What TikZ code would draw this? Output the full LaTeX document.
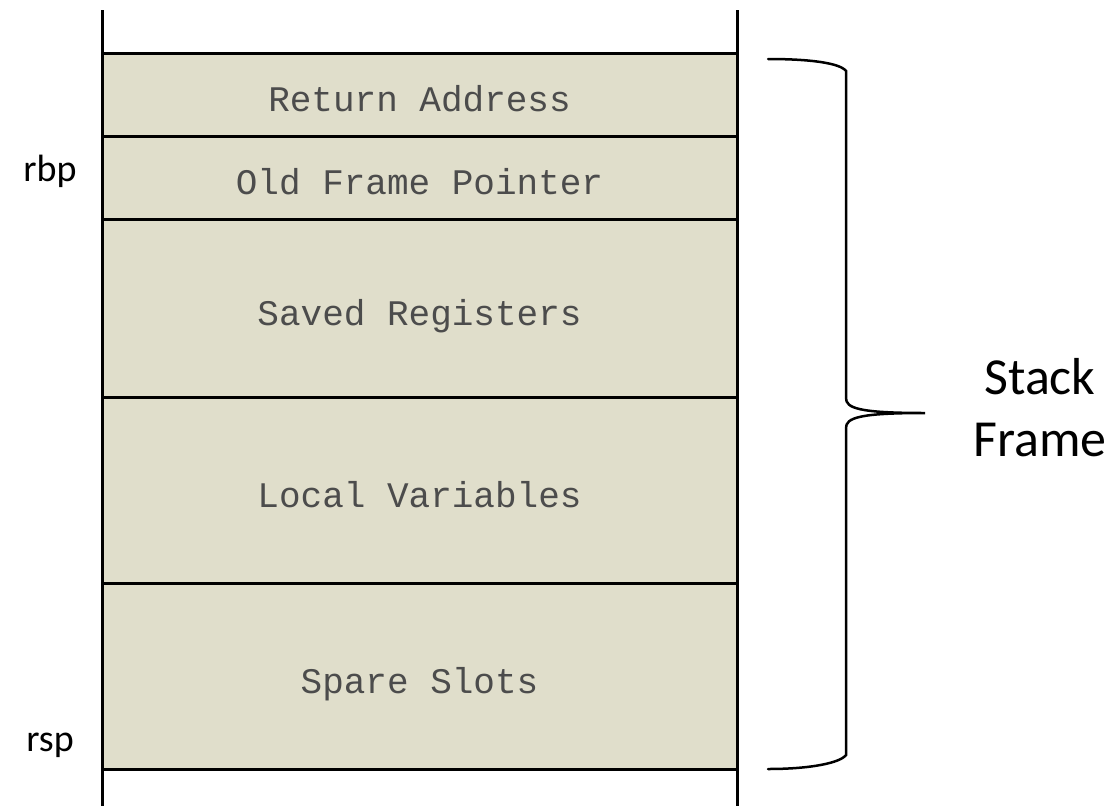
\documentclass[tikz,border=0pt]{standalone}
\usepackage{fontspec}
\setmonofont{Liberation Mono}
\newfontfamily\labelfont{Carlito}
\usetikzlibrary{positioning}
\definecolor{slotfill}{HTML}{E0DECB}

\begin{document}
\begin{tikzpicture}[
    x=1pt,
    y=-1pt,
    slot/.style={draw, line width=3pt, fill=slotfill, minimum width=635pt,
        outer sep=0pt, inner sep=0pt, text=black!70,
        text height=34pt, text depth=0pt,
        font=\ttfamily\fontsize{36}{42}\selectfont},
    reg/.style={font=\labelfont\fontsize{38}{44}\selectfont},
    brace/.style={line width=2.5pt, line cap=round}
]
    \useasboundingbox (0,0) rectangle (1119,806);

    % Stack slots
    \node[slot, minimum height=83pt, anchor=north] (ret) at (419.5,53) {Return Address};
    \node[slot, minimum height=83pt, below=0pt of ret] (ofp) {Old Frame Pointer};
    \node[slot, minimum height=178pt, below=0pt of ofp] (saved) {Saved Registers};
    \node[slot, minimum height=186pt, below=0pt of saved] (locals) {Local Variables};
    \node[slot, minimum height=186pt, below=0pt of locals] (spare) {Spare Slots};

    % Stack walls
    \coordinate (top) at (0,10);
    \coordinate (bot) at (0,806);
    \draw[line width=3pt] (ret.north west |- top) -- (spare.south west |- bot);
    \draw[line width=3pt] (ret.north east |- top) -- (spare.south east |- bot);

    % Registers
    \node[reg] (rbp) at (50,171) {rbp};
    \node[reg] (rsp) at (50,745) {rsp};

    % Brace
    \coordinate (btop) at (768,59);
    \coordinate (btip) at (925,413);
    \coordinate (bbot) at (768,769);
    \draw[brace] (btop) .. controls (810,59) and (840,63) .. (846,71)
        -- (846,398) .. controls (846,408) and (858,413) .. (btip)
        .. controls (858,413) and (846,418) .. (846,428)
        -- (846,755) .. controls (840,763) and (810,769) .. (bbot);
    \node[reg, font=\labelfont\fontsize{52}{62}\selectfont, align=center] (frame) at (1040,408) {Stack\\Frame};
\end{tikzpicture}
\end{document}
